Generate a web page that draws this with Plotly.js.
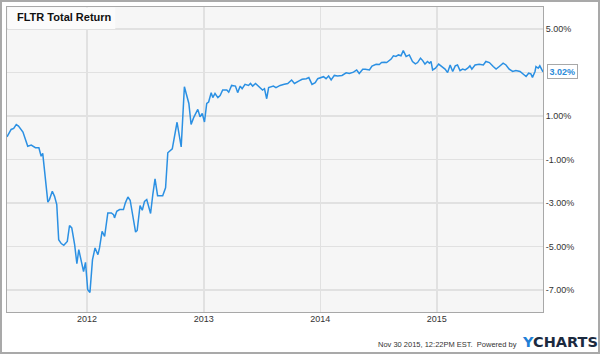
<!DOCTYPE html>
<html>
<head>
<meta charset="utf-8">
<script src="https://cdn.plot.ly/plotly-3.0.1.min.js"></script>
<style>
  html, body { margin: 0; padding: 0; background: #ffffff; }
  #wrap { position: relative; width: 600px; height: 354px; }
  #chart { width: 600px; height: 354px; }
  #frame { position: absolute; left: 0; top: 0; width: 600px; height: 354px; box-sizing: border-box; border: 2px solid #a9a9a9; pointer-events: none; }
</style>
</head>
<body>
<div id="wrap"><div id="chart"></div><div id="frame"></div></div>
<script>
// Chart data
const dates = [
  '2011-04-25','2011-05-08','2011-05-16','2011-05-24','2011-05-31','2011-06-14','2011-06-29','2011-07-10','2011-07-23','2011-08-03',
  '2011-08-10','2011-08-15','2011-08-31','2011-09-05','2011-09-14','2011-09-21','2011-09-28','2011-10-04','2011-10-12','2011-10-20',
  '2011-10-31','2011-11-07','2011-11-14','2011-11-23','2011-11-30','2011-12-06','2011-12-14','2011-12-21','2011-12-27','2012-01-03',
  '2012-01-10','2012-01-18','2012-01-26','2012-02-04','2012-02-09','2012-02-17','2012-02-25','2012-03-06','2012-03-17','2012-03-24',
  '2012-03-27','2012-04-03','2012-04-12','2012-04-24','2012-04-30','2012-05-08','2012-05-15','2012-05-23','2012-06-01','2012-06-06',
  '2012-06-15','2012-06-22','2012-06-29','2012-07-06','2012-07-11','2012-07-18','2012-07-25','2012-08-01','2012-08-09','2012-08-25',
  '2012-09-03','2012-09-10','2012-09-24','2012-10-09','2012-10-22','2012-11-01','2012-11-15','2012-11-22','2012-11-30','2012-12-13',
  '2012-12-20','2012-12-27','2013-01-03','2013-01-10','2013-01-16','2013-01-24','2013-01-29','2013-02-05','2013-02-14','2013-02-21',
  '2013-03-01','2013-03-14','2013-03-20','2013-03-29','2013-04-10','2013-04-17','2013-04-25','2013-05-01','2013-05-10','2013-05-21',
  '2013-05-27','2013-06-03','2013-06-12','2013-06-24','2013-07-04','2013-07-10','2013-07-17','2013-07-23','2013-08-07','2013-08-15',
  '2013-08-28','2013-09-10','2013-09-21','2013-10-03','2013-10-12','2013-10-25','2013-11-05','2013-11-18','2013-11-26','2013-12-06',
  '2013-12-16','2013-12-24','2014-01-03','2014-01-11','2014-01-19','2014-01-27','2014-02-04','2014-02-14','2014-02-24','2014-03-10',
  '2014-03-23','2014-04-02','2014-04-15','2014-04-25','2014-05-03','2014-05-14','2014-05-22','2014-06-04','2014-06-12','2014-06-25',
  '2014-07-05','2014-07-12','2014-07-21','2014-07-28','2014-08-11','2014-08-18','2014-08-26','2014-09-03','2014-09-11','2014-09-18',
  '2014-09-27','2014-10-07','2014-10-17','2014-10-26','2014-11-02','2014-11-11','2014-11-18','2014-11-25','2014-12-03','2014-12-09',
  '2014-12-14','2014-12-19','2014-12-28','2015-01-07','2015-01-19','2015-01-27','2015-02-04','2015-02-12','2015-02-20','2015-02-28',
  '2015-03-07','2015-03-15','2015-03-23','2015-03-31','2015-04-08','2015-04-15','2015-04-21','2015-05-01','2015-05-14','2015-05-27',
  '2015-06-04','2015-06-15','2015-06-27','2015-07-06','2015-07-16','2015-07-28','2015-08-06','2015-08-16','2015-08-27','2015-09-06',
  '2015-09-19','2015-09-29','2015-10-08','2015-10-16','2015-10-23','2015-10-28','2015-11-05','2015-11-08','2015-11-15','2015-11-20',
  '2015-11-25','2015-11-30'
];
const totalReturn = [
  0.04, 0.38, 0.43, 0.60, 0.53, 0.26, -0.39, -0.34, -0.46, -0.46,
  -0.85, -0.72, -2.96, -2.84, -2.46, -2.69, -3.07, -4.68, -4.86, -4.94,
  -4.76, -4.03, -4.14, -4.91, -5.78, -5.14, -5.68, -6.14, -5.72, -6.98,
  -7.10, -5.60, -5.06, -5.37, -5.06, -4.30, -4.53, -3.45, -3.45, -3.53,
  -3.68, -3.38, -3.30, -3.30, -2.99, -2.72, -2.87, -3.53, -4.33, -4.26,
  -3.12, -3.33, -2.92, -2.84, -3.07, -3.48, -2.61, -1.89, -2.66, -2.66,
  -2.30, -0.69, -0.51, 0.71, -0.42, 2.34, 1.57, 0.61, 0.92, 1.30,
  0.96, 1.11, 0.72, 1.57, 1.64, 2.07, 1.84, 2.03, 1.84, 1.94,
  2.19, 2.19, 2.09, 2.40, 2.37, 2.07, 2.37, 2.25, 2.45, 2.40,
  2.49, 2.37, 2.49, 2.34, 2.19, 2.25, 1.79, 2.30, 2.37, 2.30,
  2.40, 2.45, 2.49, 2.65, 2.49, 2.60, 2.68, 2.71, 2.76, 2.45,
  2.53, 2.71, 2.76, 2.80, 2.71, 2.83, 2.65, 2.86, 2.83, 2.86,
  2.98, 2.95, 3.01, 3.11, 2.95, 3.14, 3.14, 3.11, 3.29, 3.37,
  3.36, 3.45, 3.46, 3.45, 3.61, 3.76, 3.73, 3.80, 3.76, 4.00,
  3.73, 3.80, 3.50, 3.39, 3.45, 3.65, 3.54, 3.38, 3.50, 3.42,
  3.50, 3.11, 3.19, 3.38, 3.24, 3.15, 2.99, 3.34, 3.04, 3.30,
  3.34, 3.08, 3.15, 3.11, 3.19, 3.30, 3.15, 3.34, 3.37, 3.34,
  3.50, 3.45, 3.27, 3.15, 3.27, 3.42, 3.34, 3.15, 3.04, 3.08,
  3.04, 2.93, 2.81, 2.96, 2.93, 2.77, 3.04, 3.27, 3.19, 3.30,
  3.15, 3.02
];
const yTickVals = [-7, -5, -3, -1, 1, 3, 5];
const yTickText = ['-7.00%', '-5.00%', '-3.00%', '-1.00%', '1.00%', '', '5.00%'];
const xTickVals = ['2012-01-01', '2013-01-01', '2014-01-01', '2015-01-01'];
const xTickText = ['2012', '2013', '2014', '2015'];
const chartTitle = 'FLTR Total Return';
const lastLabel = '3.02%';
const footerText = 'Nov 30 2015, 12:22PM EST.  Powered by';

const lineColor = '#2b90e3';
const lastDate = dates[dates.length - 1];
const lastVal = totalReturn[totalReturn.length - 1];

const trace = {
  type: 'scatter', mode: 'lines',
  x: dates, y: totalReturn,
  line: { color: lineColor, width: 1.5 },
  hoverinfo: 'skip'
};

const layout = {
  width: 600, height: 354,
  margin: { l: 7, r: 57, t: 7, b: 42, pad: 0 },
  paper_bgcolor: '#ffffff',
  plot_bgcolor: '#f6f6f6',
  showlegend: false,
  font: { family: 'Liberation Sans, Arial, sans-serif', size: 9, color: '#333333' },
  xaxis: {
    type: 'date',
    range: [dates[0], lastDate],
    tickmode: 'array', tickvals: xTickVals, ticktext: xTickText,
    showgrid: true, gridcolor: '#e1e1e1', gridwidth: 1.5,
    showline: true, linecolor: '#a8a8a8', linewidth: 1, mirror: true,
    ticks: '', zeroline: false, ticklabelstandoff: -2,
    tickfont: { size: 9, color: '#333333' }
  },
  yaxis: {
    side: 'right',
    range: [-8, 6],
    tickmode: 'array', tickvals: yTickVals, ticktext: yTickText,
    showgrid: true, gridcolor: '#e1e1e1', gridwidth: 1.5,
    showline: true, linecolor: '#a8a8a8', linewidth: 1, mirror: true,
    ticks: '', zeroline: false,
    tickfont: { size: 9, color: '#333333' }
  },
  shapes: [
    { type: 'rect', xref: 'paper', yref: 'paper', layer: 'above',
      x0: 0.0015, x1: 0.202, y0: 1 - 22 / 305, y1: 0.998,
      fillcolor: '#fbfbfb', line: { width: 0 } }
  ],
  annotations: [
    { xref: 'paper', yref: 'paper', x: 0.015, y: 1 - 10 / 305,
      xanchor: 'left', yanchor: 'middle', showarrow: false,
      text: '<b>' + chartTitle + '</b>',
      font: { family: 'Liberation Sans, Arial, sans-serif', size: 11, color: '#111111' } },
    { xref: 'paper', yref: 'y', x: 1, y: lastVal,
      xanchor: 'left', yanchor: 'middle', xshift: 4, showarrow: false,
      text: '<b>' + lastLabel + '</b>',
      bgcolor: '#ffffff', bordercolor: '#a8a8a8', borderwidth: 1, borderpad: 1.5,
      font: { family: 'Liberation Sans, Arial, sans-serif', size: 9, color: '#2b8ad8' } },
    { xref: 'paper', yref: 'paper', x: (519 - 7) / 536, y: (312 - 344) / 305,
      xanchor: 'right', yanchor: 'middle', showarrow: false,
      text: footerText,
      font: { family: 'Liberation Sans, Arial, sans-serif', size: 7.5, color: '#333333' } },
    { xref: 'paper', yref: 'paper', x: (520 - 7) / 536, y: (312 - 342) / 305,
      xanchor: 'left', yanchor: 'middle', showarrow: false,
      text: '<b><span style="color:#1f7fd6">Y</span>CHARTS</b>',
      font: { family: 'DejaVu Sans, Liberation Sans, sans-serif', size: 14.5, color: '#1b2a3f' } }
  ]
};

Plotly.newPlot('chart', [trace], layout, { staticPlot: true, displayModeBar: false });
</script>
</body>
</html>
